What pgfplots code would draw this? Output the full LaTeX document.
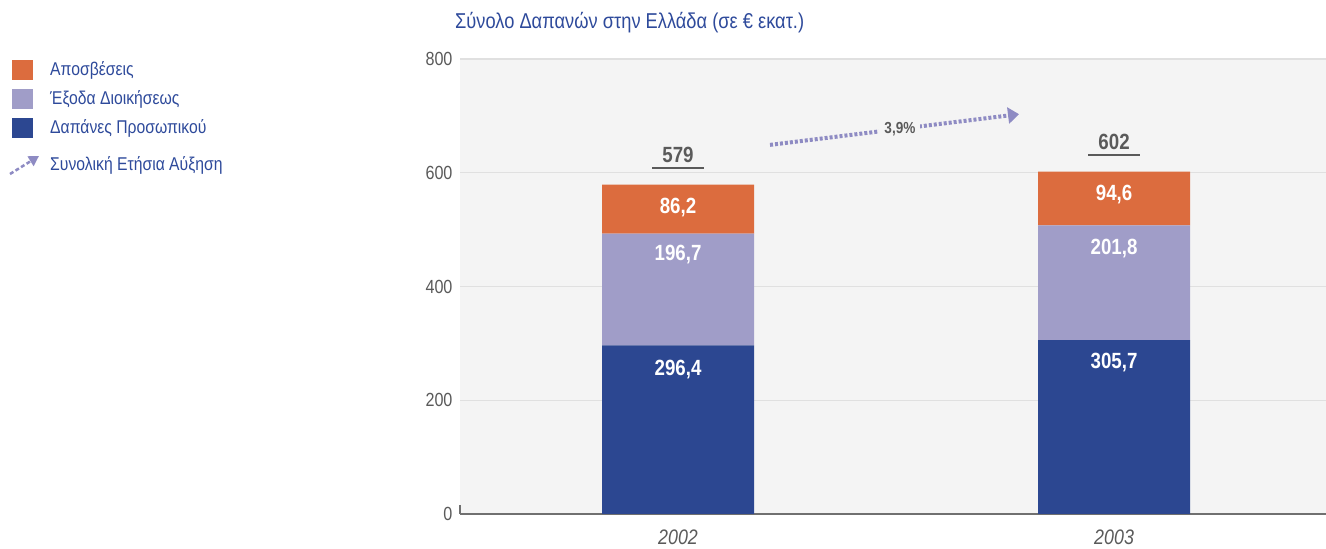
\documentclass[border=0pt]{standalone}
\usepackage{fontspec}
\setmainfont{Liberation Sans}[FakeStretch=0.85]
\usepackage{pgfplots}
\pgfplotsset{compat=1.18}
\usetikzlibrary{arrows.meta}
\definecolor{corange}{HTML}{DC6C3E}
\definecolor{clav}{HTML}{A09DC8}
\definecolor{cblue}{HTML}{2C4791}
\definecolor{cbg}{HTML}{F4F4F4}
\definecolor{cgrid}{HTML}{E0E0E0}
\definecolor{ctext}{HTML}{2E4A9B}
\definecolor{cgray}{HTML}{5A5A5A}
\definecolor{cdark}{HTML}{707070}
\definecolor{carrow}{HTML}{8E8BC3}
\begin{document}
\begin{tikzpicture}
\path[use as bounding box] (0pt,0pt) rectangle (1326pt,549pt);
% legend
\fill[corange] (12pt,469pt) rectangle (33pt,489pt);
\fill[clav] (12pt,440pt) rectangle (33pt,460pt);
\fill[cblue] (12pt,411pt) rectangle (33pt,431pt);
\draw[carrow, line width=2.5pt, dash pattern=on 4pt off 2.5pt, -{Triangle[length=10pt,width=11pt]}] (10pt,375pt) -- (39pt,393pt);
\node[anchor=west, text=ctext, font=\fontsize{18.5}{18.5}\selectfont, inner sep=0pt] at (50pt,479pt) {Αποσβέσεις};
\node[anchor=west, text=ctext, font=\fontsize{18.5}{18.5}\selectfont, inner sep=0pt] at (50pt,450pt) {Έξοδα Διοικήσεως};
\node[anchor=west, text=ctext, font=\fontsize{18.5}{18.5}\selectfont, inner sep=0pt] at (50pt,421pt) {Δαπάνες Προσωπικού};
\node[anchor=west, text=ctext, font=\fontsize{18.5}{18.5}\selectfont, inner sep=0pt] at (50pt,384pt) {Συνολική Ετήσια Αύξηση};
\node[anchor=west, text=ctext, font=\fontsize{21.5}{21.5}\selectfont, inner sep=0pt] at (455pt,526pt) {Σύνολο Δαπανών στην Ελλάδα (σε € εκατ.)};
\begin{axis}[
  at={(460pt,35pt)}, anchor=south west,
  scale only axis, width=866pt, height=455pt,
  xmin=-0.5, xmax=1.486, ymin=0, ymax=800,
  clip=false,
  ybar stacked, bar width=152pt,
  axis background/.style={fill=cbg},
  axis x line*=bottom, axis y line*=left,
  y axis line style={draw=none},
  x axis line style={draw=cdark, line width=1.5pt},
  xtick={0,1}, xticklabels={2002,2003},
  ytick={0,200,400,600,800}, yticklabels={0,200,400,600,800},
  major tick length=0pt,
  ymajorgrids, grid style={draw=cgrid, line width=1.2pt},
  yticklabel style={text=cgray, font=\fontsize{19}{19}\selectfont, xshift=-4pt},
  xticklabel style={text=cgray, font=\itshape\fontsize{21}{21}\selectfont, yshift=-12pt},
]
\addplot[fill=cblue, draw=none] coordinates {(0,296.4) (1,305.7)};
\addplot[fill=clav, draw=none] coordinates {(0,196.7) (1,201.8)};
\addplot[fill=corange, draw=none] coordinates {(0,86.2) (1,94.6)};
\coordinate (z0) at (axis cs:-0.5,0);
\coordinate (z1) at (axis cs:-0.5,16);
\coordinate (a1) at (axis cs:0,296.4);
\coordinate (a2) at (axis cs:0,493.1);
\coordinate (a3) at (axis cs:0,579.3);
\coordinate (b1) at (axis cs:1,305.7);
\coordinate (b2) at (axis cs:1,507.5);
\coordinate (b3) at (axis cs:1,602.1);
\coordinate (r0) at (axis cs:0.211,649);
\coordinate (r1) at (axis cs:0.782,703);
\coordinate (rl) at (axis cs:0.509,677);
\end{axis}
\draw[cdark, line width=1.5pt] (z0) -- (z1);
\node[text=white, font=\bfseries\fontsize{22}{22}\selectfont, yshift=-24pt] at (a1) {296,4};
\node[text=white, font=\bfseries\fontsize{22}{22}\selectfont, yshift=-21pt] at (a2) {196,7};
\node[text=white, font=\bfseries\fontsize{22}{22}\selectfont, yshift=-23pt] at (a3) {86,2};
\node[text=white, font=\bfseries\fontsize{22}{22}\selectfont, yshift=-22pt] at (b1) {305,7};
\node[text=white, font=\bfseries\fontsize{22}{22}\selectfont, yshift=-23pt] at (b2) {201,8};
\node[text=white, font=\bfseries\fontsize{22}{22}\selectfont, yshift=-23pt] at (b3) {94,6};
\node[text=cgray, font=\bfseries\fontsize{22}{22}\selectfont, yshift=30pt] at (a3) {579};
\draw[cgray, line width=2pt] ([xshift=-26pt,yshift=17pt]a3) -- ([xshift=26pt,yshift=17pt]a3);
\node[text=cgray, font=\bfseries\fontsize{22}{22}\selectfont, yshift=30pt] at (b3) {602};
\draw[cgray, line width=2pt] ([xshift=-26pt,yshift=17pt]b3) -- ([xshift=26pt,yshift=17pt]b3);
\draw[carrow, line width=4pt, dash pattern=on 3pt off 2pt, -{Triangle[length=11pt,width=16pt]}] (r0) -- (r1);
\node[fill=cbg, text=cgray, font=\bfseries\fontsize{16}{16}\selectfont, inner sep=5pt] at (rl) {3,9\%};
\end{tikzpicture}
\end{document}
